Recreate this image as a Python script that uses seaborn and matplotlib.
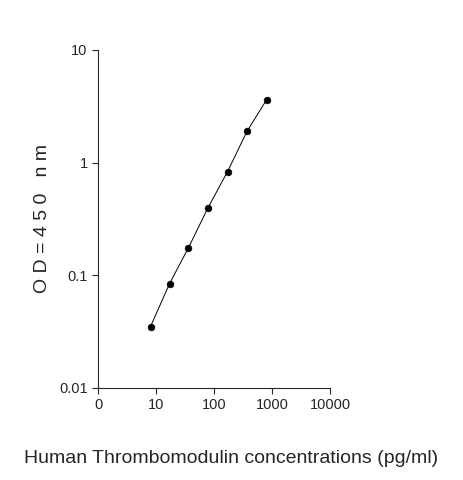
import matplotlib
matplotlib.use("Agg")
import matplotlib.pyplot as plt
import seaborn as sns
import pandas as pd

# standard curve values
conc = [8, 17, 36, 78, 170, 370, 800]
od = [0.035, 0.084, 0.175, 0.395, 0.83, 1.9, 3.6]
x_ticks = [1, 10, 100, 1000, 10000]
x_labels = ["0", "10", "100", "1000", "10000"]
y_ticks = [0.01, 0.1, 1, 10]
y_labels = ["0.01", "0.1", "1", "10"]

sns.set_style("ticks")
plt.rcParams['font.family'] = ['Liberation Sans', 'DejaVu Sans']

df = pd.DataFrame({"conc": conc, "od": od})

fig = plt.figure(figsize=(4.63, 4.8), dpi=100)
ax = fig.add_axes([0.212, 0.192, 0.501, 0.704])
sns.lineplot(data=df, x="conc", y="od", color="black", linewidth=0.7, ax=ax)
sns.scatterplot(data=df, x="conc", y="od", color="black", s=24, edgecolor="black", zorder=3, ax=ax)
ax.set_xscale("log")
ax.set_yscale("log")
ax.set_xlim(1, 10000)
ax.set_ylim(0.01, 10)
ax.set_xticks(x_ticks)
ax.set_xticklabels(x_labels, fontsize=10.5)
ax.set_yticks(y_ticks)
ax.set_yticklabels(y_labels, fontsize=10.5)
ax.minorticks_off()
ax.tick_params(length=4, width=0.8)
sns.despine(ax=ax)
ax.set_xlabel("")
ax.set_ylabel("O D = 4 5 0   n m", fontsize=14, labelpad=6)
fig.text(0.5, 0.035, "Human Thrombomodulin concentrations (pg/ml)", ha="center", fontsize=14)

fig.savefig("out.png", dpi=100)
